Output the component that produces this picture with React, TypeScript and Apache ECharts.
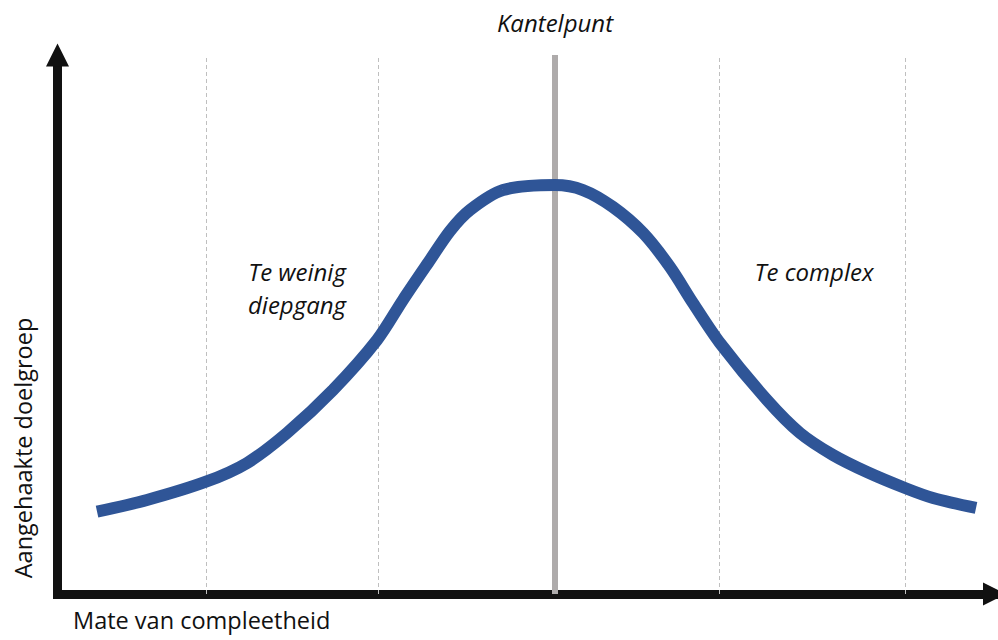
import React, { useEffect, useRef } from "react";
import * as echarts from "echarts";

const curveX = [4.22, 9.55, 15.85, 20.22, 24.49, 29.4, 34.1, 36.87, 39.54, 41.89, 44.02, 47.55, 53.09, 56.08, 59.28, 62.49, 65.37, 67.82, 70.7, 75.72, 79.24, 82.76, 86.39, 90.45, 93.44, 98.03];
const curveY = [15.27, 17.44, 20.83, 24.3, 29.87, 37.85, 47.12, 54.55, 61.41, 67.35, 71.24, 74.95, 75.88, 74.95, 71.8, 66.98, 60.67, 53.99, 46.57, 35.99, 29.87, 25.79, 22.63, 19.67, 17.81, 15.96];
const dashedX = [15.85, 34.24, 70.63, 90.45];
const tippingX = 53.1;
const tippingLabel = "Kantelpunt";
const leftZoneLabel = "Te weinig\ndiepgang";
const rightZoneLabel = "Te complex";
const xName = "Mate van compleetheid";
const yName = "Aangehaakte doelgroep";

export default function App() {
  const ref = useRef<HTMLDivElement>(null);
  useEffect(() => {
    if (!ref.current) return;
    const chart = echarts.init(ref.current, null, { renderer: "svg" });
    const font = "'Open Sans', Lato, sans-serif";
    const axisCommon = {
      min: 0,
      max: 100,
      splitLine: { show: false },
      axisTick: { show: false },
      axisLabel: { show: false },
      axisLine: {
        show: true,
        symbol: ["none", "triangle"],
        symbolSize: [23, 23],
        lineStyle: { color: "#111111", width: 9, cap: "square" },
      },
    };
    chart.setOption({
      animation: false,
      grid: { left: 57.5, right: 3.5, top: 55, bottom: 46 },
      xAxis: { type: "value", ...axisCommon },
      yAxis: {
        type: "value",
        ...axisCommon,
        axisLine: { ...axisCommon.axisLine, lineStyle: { color: "#111111", width: 9, cap: "butt" } },
      },
      series: [
        {
          type: "line",
          data: dashedX.map((x) => [x, 0]),
          symbol: "none",
          lineStyle: { width: 0, opacity: 0 },
          silent: true,
          markLine: {
            silent: true,
            symbol: ["none", "none"],
            label: { show: false },
            lineStyle: { type: [4, 3], color: "#bfbfbf", width: 1 },
            data: dashedX.map((x) => ({ xAxis: x })),
          },
          z: 1,
        },
        {
          type: "line",
          data: [[tippingX, 0]],
          symbol: "none",
          lineStyle: { width: 0, opacity: 0 },
          silent: true,
          markLine: {
            silent: true,
            symbol: ["none", "none"],
            label: { show: false },
            lineStyle: { type: "solid", color: "#aeabab", width: 6 },
            data: [{ xAxis: tippingX }],
          },
          z: 2,
        },
        {
          type: "line",
          data: curveX.map((x, i) => [x, curveY[i]]),
          smooth: 0.3,
          symbol: "none",
          lineStyle: { color: "#2f5597", width: 12, cap: "butt" },
          z: 5,
        },
      ],
      graphic: [
        {
          type: "text",
          x: 555,
          y: 22,
          style: { text: tippingLabel, font: `italic 24px ${font}`, fill: "#111", align: "center", verticalAlign: "middle" },
        },
        {
          type: "text",
          x: 297,
          y: 288,
          style: { text: leftZoneLabel, font: `italic 24px ${font}`, fill: "#111", align: "center", verticalAlign: "middle", lineHeight: 33 },
        },
        {
          type: "text",
          x: 814,
          y: 271,
          style: { text: rightZoneLabel, font: `italic 24px ${font}`, fill: "#111", align: "center", verticalAlign: "middle" },
        },
        {
          type: "text",
          x: 73,
          y: 620,
          style: { text: xName, font: `23.5px ${font}`, fill: "#111", align: "left", verticalAlign: "middle" },
        },
        {
          type: "text",
          x: 23,
          y: 448,
          rotation: Math.PI / 2,
          style: { text: yName, font: `23.5px ${font}`, fill: "#111", align: "center", verticalAlign: "middle" },
        },
      ],
    });
    return () => chart.dispose();
  }, []);
  return <div ref={ref} style={{ width: 998, height: 640, position: "absolute", left: 0, top: 0 }} />;
}
